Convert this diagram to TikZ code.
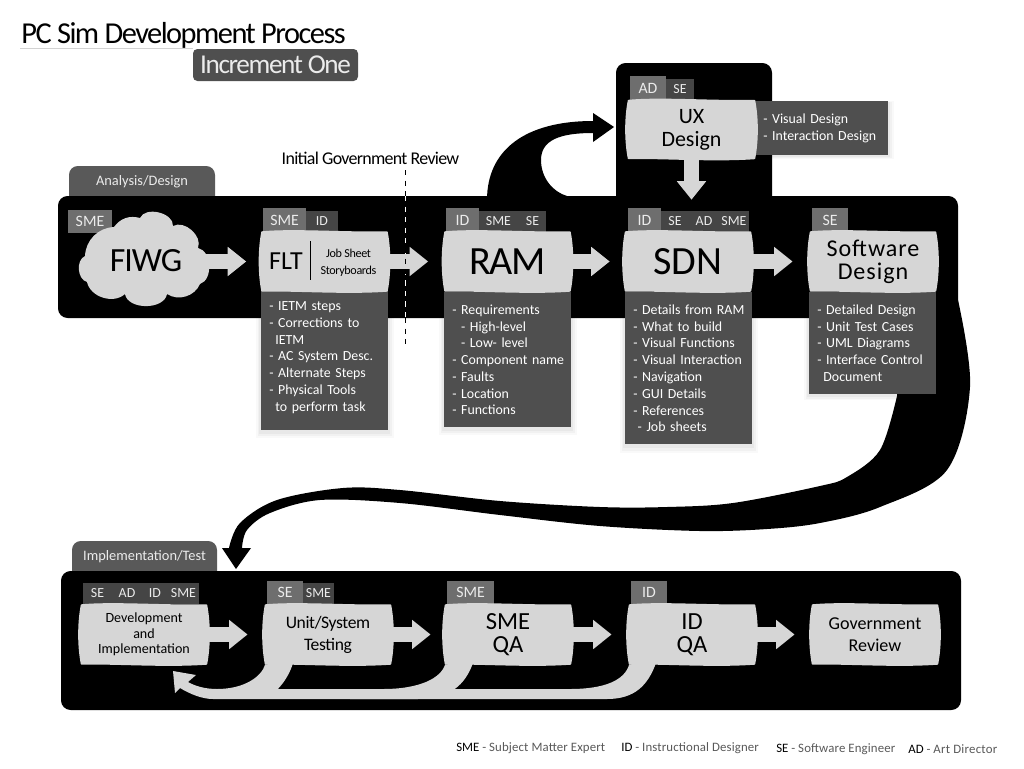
\documentclass[tikz,border=0pt]{standalone}
\usepackage{fontspec}
\setmainfont{Carlito}
\usetikzlibrary{shapes,shadows,arrows.meta}

\newcommand{\unit}{0.02cm}
\newcommand{\fs}[2]{\fontsize{#1}{#2}\selectfont}
\newcommand{\tight}[1]{\addfontfeature{LetterSpace=#1}}
\hyphenpenalty=10000

\definecolor{pillowgray}{gray}{0.84}
\definecolor{listgray}{gray}{0.31}
\definecolor{tabgray}{gray}{0.35}
\definecolor{leadgray}{gray}{0.43}
\definecolor{subgray}{gray}{0.27}
\definecolor{textgray}{gray}{0.92}
\definecolor{legendgray}{gray}{0.35}

\tikzset{
  panel/.style={fill=black,rounded corners=5.5pt,inner sep=0pt},
  tabtext/.style={text=textgray,font=\fs{8.2}{10}},
  softshadow/.style={
    general shadow={shadow scale=1.09,shadow yshift=-1pt,fill=black,opacity=0.025},
    general shadow={shadow scale=1.06,shadow yshift=-1pt,fill=black,opacity=0.03},
    general shadow={shadow scale=1.03,shadow yshift=-1pt,fill=black,opacity=0.04}},
  listbox/.style={anchor=north west,fill=listgray,text=white,align=left,inner xsep=4.5pt,inner ysep=7pt,
    text width=127*\unit-9pt,font=\fs{7.9}{9.56},softshadow},
  leadtag/.style={fill=leadgray,text=textgray,inner sep=0pt,minimum height=23.5*\unit,font=\fs{9}{10}},
  subtag/.style={fill=subgray,text=textgray,inner sep=0pt,minimum height=21*\unit,font=\fs{7.9}{10}},
  pillowbox/.style={inner sep=0pt},
  pillowshape/.style={fill=pillowgray,draw=pillowgray,line width=0.8pt,line join=round},
  pillowtext/.style={align=center,inner sep=0pt},
  flowarrow/.style={-{Triangle[width=16pt,length=10.5pt]},draw=pillowgray,line width=8pt},
  bigswoosh/.style={fill=black},
  backflow/.style={fill=pillowgray},
  legend/.style={text=legendgray,inner sep=0pt,font=\fs{7.3}{9}}
}

%%% wavy box: name, centre, width, height, font, text
\newcommand{\pillow}[6]{%
  \node[pillowbox,minimum width=#3*\unit,minimum height=#4*\unit] (#1) at (#2) {};
  \draw[pillowshape,shift={(#2)}] (-#3/2,-#4/2)
    .. controls (-#3/4,-#4/2-3) and (#3/6,-#4/2+1) .. (#3/2,-#4/2)
    .. controls (#3/2+3.5,-#4/5) and (#3/2+3.5,#4/5) .. (#3/2,#4/2)
    .. controls (#3/6,#4/2+3) and (-#3/4,#4/2-1) .. (-#3/2,#4/2)
    .. controls (-#3/2-3.5,#4/5) and (-#3/2-3.5,-#4/5) .. cycle;
  \node[pillowtext,font=#5] (#1text) at (#2) {#6};
}

\begin{document}
\begin{tikzpicture}[x=\unit,y=-\unit]
\useasboundingbox (0,0) rectangle (1024,768);

%%% Title
\node[anchor=base west,inner sep=0pt,font=\fs{17.3}{20}\tight{-5}] (title) at (21,43) {PC Sim Development Process};
\draw[gray!35] (20,48) -- (193,48);
\node[fill=listgray,text=textgray,rounded corners=2.5pt,minimum width=165*\unit,minimum height=32*\unit,inner sep=0pt,font=\fs{15.5}{16}\tight{-5}] (increment) at (275.5,65) {Increment One};

%%% Big curved arrows
\coordinate (ramup) at (487,200);
\coordinate (uxin) at (614,127);
\fill[bigswoosh] (ramup) .. controls (487,150) and (525,121) .. (593,121) -- (593,113) -- (uxin) -- (593,142) -- (593,133)
  .. controls (560,133) and (541,140) .. (541,160) .. controls (541,178) and (553,192) .. (567,196) -- (567,200) -- cycle;

\coordinate (swout) at (958,300);
\coordinate (implin) at (236,569);
\fill[bigswoosh] (swout) -- plot[smooth,tension=0.55] coordinates {(958,300) (970,387) (947,470) (880,507) (820,523) (767,529) (700,531) (600,526) (500,515) (400,503) (320,500) (270,513) (247,530) (242,548)}
  -- (251,548) -- (implin) -- (222,548)
  -- plot[smooth,tension=0.55] coordinates {(229,548) (240,523) (277,500) (343,488) (400,490) (500,501) (600,507) (667,507) (733,503) (820,486) (847,477) (880,450) (897,396)}
  -- (897,300) -- cycle;

%%% Panels
\node[panel,minimum width=156*\unit,minimum height=150*\unit] (uxpanel) at (694,138) {};
\fill[tabgray,rounded corners=5pt] (69,205) -- (69,166) -- (215,166) -- (215,205) -- cycle;
\fill[tabgray,rounded corners=5pt] (72,580) -- (72,541) -- (217,541) -- (217,580) -- cycle;
\node[panel,minimum width=900*\unit,minimum height=122*\unit] (designpanel) at (508,257) {};
\node[panel,minimum width=900*\unit,minimum height=139*\unit] (testpanel) at (511,640.5) {};
\node[tabtext] (designtab) at (142,182) {Analysis/Design};
\node[tabtext] (testtab) at (144.5,557) {Implementation/Test};

%%% Review line
\node[inner sep=0pt,font=\fs{10.2}{12}\tight{-4}] (review) at (370.5,158) {Initial Government Review};
\draw[dashed,thin] (405,170) -- (405,196);
\draw[dashed,thin,white] (405,196) -- (405,318);
\draw[dashed,thin] (405,318) -- (405,345);

%%% Lists
\node[listbox] (fltlist) at (261,289) {- IETM steps\\- Corrections to\\\hspace*{3.5pt}IETM\\- AC System Desc.\\- Alternate Steps\\- Physical Tools\\\hspace*{3.5pt}to perform task\rule[-3.6pt]{0pt}{0pt}};
\node[listbox] (ramlist) at (444,292) {- Requirements\\\hspace*{5pt}- High-level\\\hspace*{5pt}- Low- level\\\mbox{- Component name}\\- Faults\\- Location\\- Functions};
\node[listbox] (sdnlist) at (625,292) {\mbox{- Details from RAM}\\- What to build\\- Visual Functions\\- Visual Interaction\\- Navigation\\- GUI Details\\- References\\\hspace*{2.5pt}- Job sheets};
\node[listbox] (swlist) at (809,292) {- Detailed Design\\- Unit Test Cases\\- UML Diagrams\\- Interface Control\\\hspace*{3.5pt}Document};
\node[listbox,text width=133*\unit-9pt] (uxlist) at (755,101) {- Visual Design\\\mbox{- Interaction Design}};

%%% Tags of the top row
\node[leadtag,minimum width=44*\unit] (fiwgsme) at (90,221.5) {SME};
\node[subtag,minimum width=32*\unit] (fltid) at (322,221.5) {ID};
\node[leadtag,minimum width=43*\unit] (fltsme) at (284.5,220) {SME};
\node[subtag,minimum width=41*\unit] (ramsme) at (498.5,221.5) {SME};
\node[subtag,minimum width=27*\unit] (ramse) at (532.5,221.5) {SE};
\node[leadtag,minimum width=33*\unit] (ramid) at (462.5,220) {ID};
\node[subtag,minimum width=28*\unit] (sdnse) at (675,221.5) {SE};
\node[subtag,minimum width=30*\unit] (sdnad) at (704,221.5) {AD};
\node[subtag,minimum width=30*\unit] (sdnsme) at (734,221.5) {SME};
\node[leadtag,minimum width=33*\unit] (sdnid) at (644.5,220) {ID};
\node[leadtag,minimum width=36*\unit] (swse) at (830,220) {SE};
\node[subtag,minimum width=28*\unit] (uxse) at (680,89) {SE};
\node[leadtag,minimum width=36*\unit] (uxad) at (648,88) {AD};

%%% Tags of the bottom row
\node[subtag,minimum width=29*\unit] (devse) at (97.5,593.5) {SE};
\node[subtag,minimum width=30*\unit] (devad) at (127,593.5) {AD};
\node[subtag,minimum width=26*\unit] (devid) at (155,593.5) {ID};
\node[subtag,minimum width=31*\unit] (devsme) at (183.5,593.5) {SME};
\node[subtag,minimum width=31*\unit] (unitsme) at (318.5,593.5) {SME};
\node[leadtag,minimum width=36*\unit] (unitse) at (285,592.5) {SE};
\node[leadtag,minimum width=47*\unit] (smeqasme) at (470.5,592.5) {SME};
\node[leadtag,minimum width=36*\unit] (idqaid) at (649,592.5) {ID};

%%% Boxes of the top row
\node[pillowbox,minimum width=122*\unit,minimum height=97*\unit] (fiwg) at (143,258) {};
\fill[pillowgray] (85,256) to[bend left=42] (114,227) to[bend left=35] (140,218) to[bend left=80] (173,226)
  to[bend left=70] (198,248) to[bend left=75] (200,284) to[bend left=50] (167,294) to[bend left=80] (125,294)
  to[bend left=60] (87,282) to[bend left=70] (85,256) -- cycle;
\node[pillowtext,font=\fs{19.3}{20}\tight{-3}] (fiwgtext) at (146,261) {FIWG};
\pillow{flt}{324.5,261.5}{125}{59}{}{}
\node[inner sep=0pt,font=\fs{14.8}{16}] (fltname) at (286,261) {FLT};
\node[inner sep=0pt,align=center,font=\fs{6.9}{9.7}\tight{-3}] (fltsheets) at (348.5,262.5) {Job Sheet\\Storyboards};
\draw (310,241) -- (310,280);
\pillow{ram}{507.5,261.5}{125}{59}{\fs{22.8}{24}\tight{-3}}{RAM}
\pillow{sdn}{688,261.5}{125}{59}{\fs{22.8}{24}}{SDN}
\pillow{sw}{873,261.5}{125}{59}{\fs{13.7}{13}\tight{4}}{Software\\Design}
\pillow{ux}{691.5,129.5}{126}{58}{\fs{12.5}{13.1}}{UX\\Design}

%%% Boxes of the bottom row
\pillow{dev}{144,634.5}{125}{59}{\fs{8}{8.8}}{Development\\and\\Implementation}
\pillow{unit}{328,634.5}{125}{59}{\fs{10}{12.5}\tight{-2}}{Unit/System\\Testing}
\pillow{smeqa}{508,634.5}{125}{59}{\fs{14}{13}}{SME\\QA}
\pillow{idqa}{692,634.5}{125}{59}{\fs{14}{13}}{ID\\QA}
\pillow{gov}{875,634.5}{125}{59}{\fs{10.3}{12.5}}{Government\\Review}

%%% Arrows between the boxes
\draw[flowarrow,shorten >=8.8pt] (fiwg.east |- flt.west) -- (flt.west);
\draw[flowarrow,shorten >=9.4pt] (flt.east) -- (ram.west);
\draw[flowarrow,shorten >=8.8pt] (ram.east) -- (sdn.west);
\draw[flowarrow,shorten >=10pt] (sdn.east) -- (sw.west);
\draw[flowarrow,shorten >=18.2pt] (ux.south) -- (ux.south |- sdn.north);
\draw[flowarrow,shorten >=10pt] (dev.east) -- (unit.west);
\draw[flowarrow,shorten >=8.3pt] (unit.east) -- (smeqa.west);
\draw[flowarrow,shorten >=10pt] (smeqa.east) -- (idqa.west);
\draw[flowarrow,shorten >=10pt] (idqa.east) -- (gov.west);
\draw[dashed,thin] (405,248) -- (405,275);

%%% Return arrows
\coordinate (devin) at (173,671);
\fill[backflow] (idqa.south west) .. controls (625,680) and (605,689) .. (570,689) -- (263,689) -- (263,699) -- (607,699)
  .. controls (635,699) and (648,685) .. (656,663) -- cycle;
\fill[backflow] (smeqa.south west) .. controls (441,678) and (420,689) .. (383,689) -- (350,689) -- (350,699) -- (417,699)
  .. controls (450,699) and (465,685) .. (473,663) -- cycle;
\fill[backflow] (unit.south west) .. controls (262,676) and (245,689) .. (217,689) .. controls (205,689) and (195,686) .. (188,682)
  -- (196,675) -- (devin) -- (175,693) -- (180,688) .. controls (190,694) and (202,699) .. (213,699) -- (263,699)
  .. controls (275,695) and (288,680) .. (293,663) -- cycle;

%%% Legend
\node[legend,anchor=base west] (legendsme) at (456,751) {\textcolor{black}{SME} - \tight{1}Subject Matter Expert};
\node[legend,anchor=base west] (legendid) at (621,751.5) {\textcolor{black}{ID} - \tight{1}Instructional Designer};
\node[legend,anchor=base west] (legendse) at (776,752) {\textcolor{black}{SE} - \tight{1}Software Engineer};
\node[legend,anchor=base west] (legendad) at (908,753) {\textcolor{black}{AD} - \tight{2}Art Director};

\end{tikzpicture}
\end{document}
